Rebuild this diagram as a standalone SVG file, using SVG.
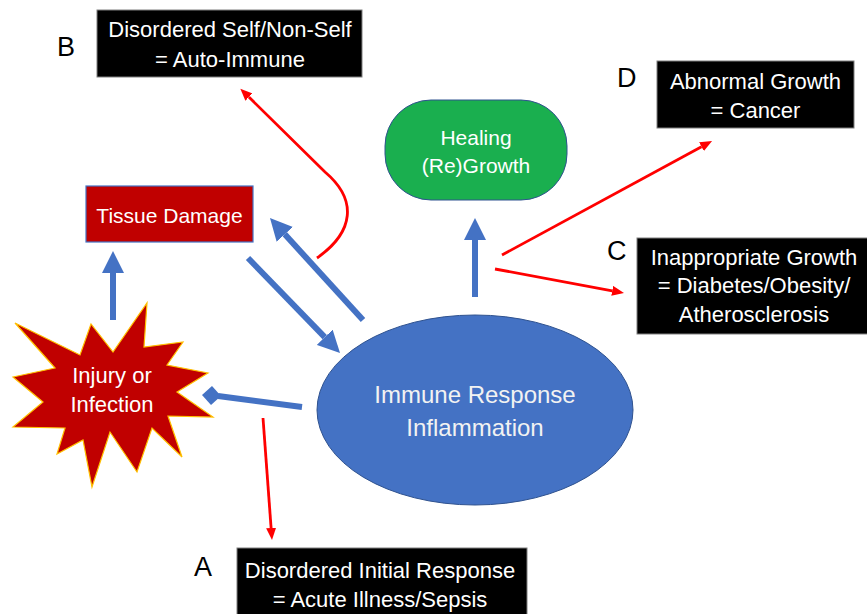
<svg xmlns="http://www.w3.org/2000/svg" width="867" height="614" viewBox="0 0 867 614">
  <style>
    text { font-family: "Liberation Sans", Arial, sans-serif; text-anchor: middle; }
    .box { fill: #000000; stroke: #7F7F7F; stroke-width: 1; }
    .boxtxt { fill: #FFFFFF; font-size: 22px; }
    .letter { fill: #000000; font-size: 27px; text-anchor: start; }
    .blue { stroke: #4472C4; stroke-width: 6; fill: none; }
    .red { stroke: #FF0000; stroke-width: 2.8; fill: none; }
  </style>
  <defs>
    <marker id="bh" viewBox="0 -11 22 22" markerWidth="22" markerHeight="22" refX="0" refY="0" orient="auto" markerUnits="userSpaceOnUse">
      <path d="M0,-11 L22,0 L0,11 Z" fill="#4472C4"/>
    </marker>
    <marker id="rh" viewBox="0 -5 12 10" markerWidth="12" markerHeight="10" refX="0" refY="0" orient="auto" markerUnits="userSpaceOnUse">
      <path d="M0,-5 L12,0 L0,5 Z" fill="#FF0000"/>
    </marker>
  </defs>

  <g id="connectors">
    <line class="blue" x1="113" y1="320" x2="113" y2="273" marker-end="url(#bh)"/>
    <line class="blue" x1="248" y1="258" x2="324.7" y2="337.2" marker-end="url(#bh)"/>
    <line class="blue" x1="363" y1="320" x2="284.8" y2="234.3" marker-end="url(#bh)"/>
    <line class="blue" x1="475" y1="297" x2="475" y2="240" marker-end="url(#bh)"/>
    <line class="blue" x1="302" y1="407" x2="218" y2="396"/>
    <polygon points="202,395 212,386 221,396 211,405" fill="#4472C4"/>
    <line class="red" x1="263" y1="418" x2="271.1" y2="528" marker-end="url(#rh)"/>
    <path class="red" d="M317,258 C354,232 358,200 325,172 L248.9,97.1" marker-end="url(#rh)"/>
    <line class="red" x1="502" y1="255" x2="701.5" y2="146.7" marker-end="url(#rh)"/>
    <line class="red" x1="495" y1="269" x2="612.2" y2="290.8" marker-end="url(#rh)"/>
  </g>

  <g id="injury">
    <polygon points="15,323 80,355 91,324 113,352 147,303 144,347 183,342 167,365 208,373 177,392 213,417 168,416 182,457 152,428 137,472 110,432 92,487 83,440 57,454 65,428 13,427 43,402 13,377 55,368" fill="#C00000" stroke="#FFC000" stroke-width="1.2" stroke-linejoin="miter"/>
    <text x="112" y="383" fill="#FFFFFF" font-size="22">Injury or</text>
    <text x="112" y="412" fill="#FFFFFF" font-size="22">Infection</text>
  </g>

  <g id="tissue">
    <rect x="86" y="186" width="167" height="56" fill="#C00000" stroke="#4472C4" stroke-width="1.2"/>
    <text x="169.5" y="223" fill="#FFFFFF" font-size="21">Tissue Damage</text>
  </g>

  <g id="immune">
    <ellipse cx="475" cy="410" rx="158" ry="95" fill="#4472C4" stroke="#2F528F" stroke-width="1"/>
    <text x="475" y="403" fill="#F2F2F2" font-size="24">Immune Response</text>
    <text x="475" y="436" fill="#F2F2F2" font-size="24">Inflammation</text>
  </g>

  <g id="healing">
    <rect x="385" y="100" width="182" height="100" rx="46" ry="46" fill="#1AAF4F" stroke="#2F528F" stroke-width="1"/>
    <text x="476" y="145" fill="#FFFFFF" font-size="21">Healing</text>
    <text x="476" y="173" fill="#FFFFFF" font-size="21">(Re)Growth</text>
  </g>

  <g id="boxB">
    <text class="letter" x="57" y="56">B</text>
    <rect class="box" x="97" y="10" width="265" height="67"/>
    <text class="boxtxt" x="230" y="37">Disordered Self/Non-Self</text>
    <text class="boxtxt" x="230" y="67">= Auto-Immune</text>
  </g>

  <g id="boxD">
    <text class="letter" x="617" y="87">D</text>
    <rect class="box" x="657" y="61" width="197" height="67"/>
    <text class="boxtxt" x="755.5" y="89">Abnormal Growth</text>
    <text class="boxtxt" x="755.5" y="118">= Cancer</text>
  </g>

  <g id="boxC">
    <text class="letter" x="607" y="260">C</text>
    <rect class="box" x="637" y="238" width="235" height="96"/>
    <text class="boxtxt" x="754" y="265">Inappropriate Growth</text>
    <text class="boxtxt" x="754" y="293">= Diabetes/Obesity/</text>
    <text class="boxtxt" x="754" y="322">Atherosclerosis</text>
  </g>

  <g id="boxA">
    <text class="letter" x="194" y="576">A</text>
    <rect class="box" x="237" y="548" width="290" height="70"/>
    <text class="boxtxt" x="380" y="578">Disordered Initial Response</text>
    <text class="boxtxt" x="380" y="607">= Acute Illness/Sepsis</text>
  </g>
</svg>
